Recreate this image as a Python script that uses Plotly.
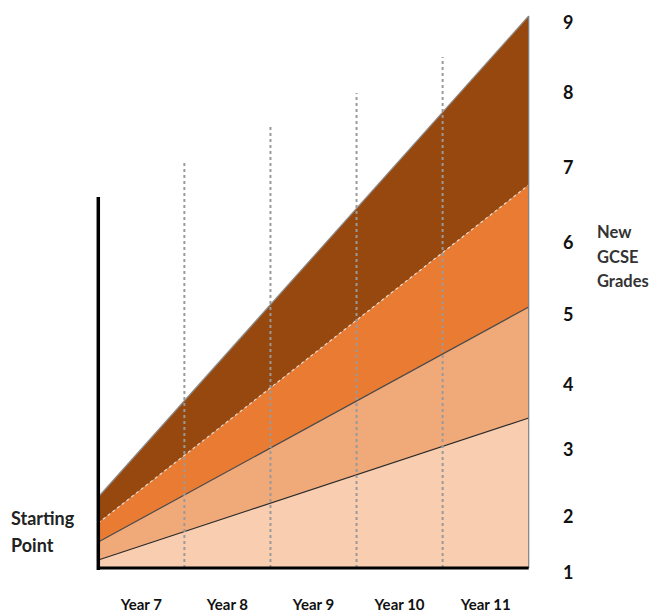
import plotly.graph_objects as go

# ---- data ----
years = ["Year 7", "Year 8", "Year 9", "Year 10", "Year 11"]
grades = ["1", "2", "3", "4", "5", "6", "7", "8", "9"]
grade_levels = [-5, 51, 118, 183, 253, 325, 400, 475, 545]

x_ends = [0, 5]                      # start / end of the 5-year span
band_lightest = [8, 150]             # top edge of each band at start / end
band_light = [26, 261]
band_orange = [45, 383]
band_brown = [71, 552]
band_names = ["Band 1", "Band 2", "Band 3", "Band 4"]

divider_x = [1, 2, 3, 4]
divider_top = [408, 441, 475, 511]
start_line_top = 371

colors = ["#F8CDB0", "#F0AA7A", "#E97B33", "#97480F"]
edge_colors = ["#2a2a2a", "#4a4a4a", "#e8e0d8", "#8a8a8a"]
edge_dash = ["solid", "solid", "dot", "solid"]

FONT = "Lato"

# page has an 8px body margin, so the figure is made 8px smaller and offset
OFF = 8
W, H = 659 - OFF, 615 - OFF
ML, MT = 94 - OFF, 12 - OFF
PW, PH = 439, 566
MR, MB = W - ML - PW, H - MT - PH

fig = go.Figure()

bands = [band_lightest, band_light, band_orange, band_brown]
for i, (vals, name) in enumerate(zip(bands, band_names)):
    fig.add_trace(go.Scatter(
        x=x_ends, y=vals, mode="lines", name=name,
        fill="tozeroy" if i == 0 else "tonexty",
        fillcolor=colors[i],
        line=dict(color=edge_colors[i], width=1.2, dash=edge_dash[i]),
        hoverinfo="skip", showlegend=False))

# right edge of the bands
fig.add_trace(go.Scatter(x=[x_ends[1], x_ends[1]], y=[0, band_brown[1]], mode="lines",
                         line=dict(color="#808080", width=1.2), hoverinfo="skip", showlegend=False))

# dotted year dividers
for xv, top in zip(divider_x, divider_top):
    fig.add_trace(go.Scatter(x=[xv, xv], y=[0, top], mode="lines",
                             line=dict(color="#9a9a9a", width=2, dash="dot"),
                             hoverinfo="skip", showlegend=False))

# baseline and starting-point axis
fig.add_trace(go.Scatter(x=[x_ends[0], x_ends[1]], y=[0, 0], mode="lines",
                         line=dict(color="black", width=3), hoverinfo="skip", showlegend=False))
fig.add_trace(go.Scatter(x=[x_ends[0], x_ends[0]], y=[-2, start_line_top], mode="lines",
                         line=dict(color="black", width=3.5), hoverinfo="skip", showlegend=False))


def paper_x(p):
    return (p - OFF - ML) / PW


annos = []
for txt, py in [("Starting", 518), ("Point", 545)]:
    annos.append(dict(x=paper_x(9), y=568 - py, xref="paper", yref="y", text=txt, showarrow=False,
                      xanchor="left", yanchor="middle",
                      font=dict(family=FONT, size=18, color="#222222", weight="bold")))
for txt, py in [("New", 232), ("GCSE", 257), ("Grades", 281)]:
    annos.append(dict(x=paper_x(595), y=568 - py, xref="paper", yref="y", text=txt, showarrow=False,
                      xanchor="left", yanchor="middle",
                      font=dict(family=FONT, size=16.5, color="#333333", weight="bold")))

fig.update_layout(
    width=W, height=H,
    margin=dict(l=ML, r=MR, t=MT, b=MB),
    paper_bgcolor="white", plot_bgcolor="white",
    showlegend=False,
    annotations=annos,
    xaxis=dict(range=[-0.05, 5.05], tickvals=[0.5, 1.5, 2.5, 3.5, 4.5], ticktext=years,
               showgrid=False, zeroline=False, showline=False, ticks="", automargin=False,
               ticklabelstandoff=16,
               tickfont=dict(family=FONT, size=15, color="#111111", weight="bold")),
    yaxis=dict(range=[-10, 556], side="right", tickvals=grade_levels, ticktext=grades,
               showgrid=False, zeroline=False, showline=False, ticks="", automargin=False,
               ticklabelstandoff=29,
               tickfont=dict(family=FONT, size=18, color="#111111", weight="bold")),
)

fig.write_html("out.html")
